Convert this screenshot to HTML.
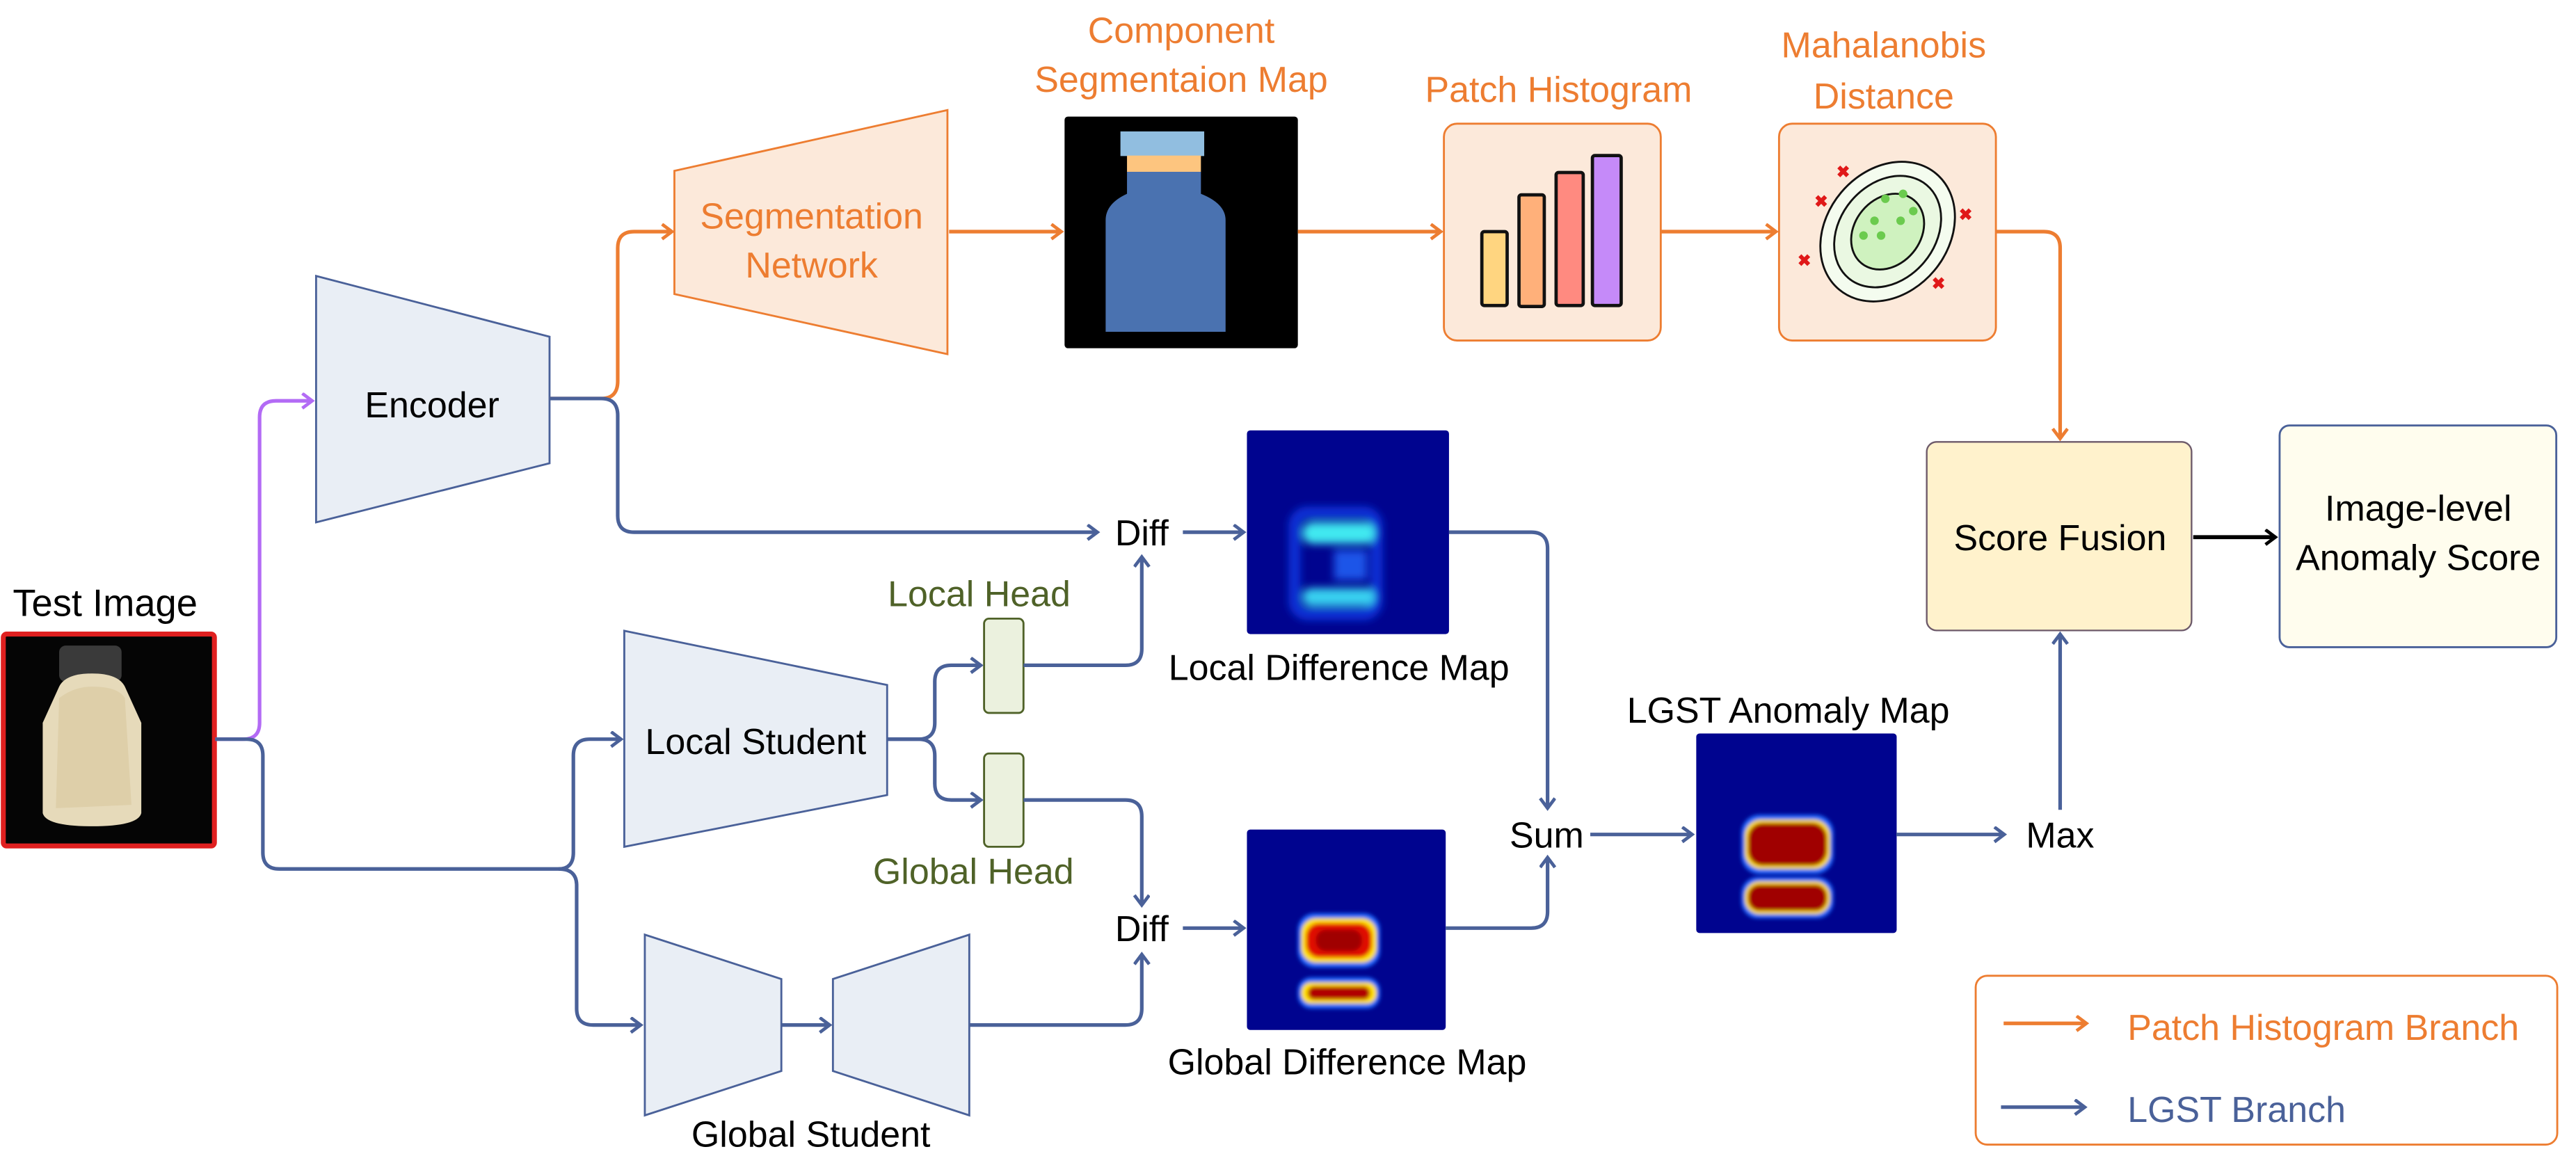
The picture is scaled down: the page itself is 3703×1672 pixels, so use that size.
<!DOCTYPE html>
<html><head><meta charset="utf-8"><style>
html,body{margin:0;padding:0;background:#fff;}
svg{display:block;}
text{font-family:"Liberation Sans",sans-serif;}
</style></head><body>
<svg width="3703" height="1672" viewBox="0 0 1568 708" xmlns="http://www.w3.org/2000/svg">
<defs>
<marker id="mo" markerUnits="userSpaceOnUse" markerWidth="12" markerHeight="12" refX="7" refY="5" orient="auto"><path d="M1,0.5 L7,5 L1,9.5" fill="none" stroke="#ED7D31" stroke-width="2"/></marker>
<marker id="mb" markerUnits="userSpaceOnUse" markerWidth="12" markerHeight="12" refX="7" refY="5" orient="auto"><path d="M1,0.5 L7,5 L1,9.5" fill="none" stroke="#4A6199" stroke-width="2"/></marker>
<marker id="mp" markerUnits="userSpaceOnUse" markerWidth="12" markerHeight="12" refX="7" refY="5" orient="auto"><path d="M1,0.5 L7,5 L1,9.5" fill="none" stroke="#B36BF5" stroke-width="2"/></marker>
<marker id="mk" markerUnits="userSpaceOnUse" markerWidth="12" markerHeight="12" refX="7" refY="5" orient="auto"><path d="M1,0.5 L7,5 L1,9.5" fill="none" stroke="#000" stroke-width="2"/></marker>
<filter id="bl" x="-50%" y="-50%" width="200%" height="200%"><feGaussianBlur stdDeviation="2.5"/></filter>
<filter id="bl2" x="-50%" y="-50%" width="200%" height="200%"><feGaussianBlur stdDeviation="1.2"/></filter>
</defs>

<!-- Test image -->
<text x="64" y="375" font-size="23" text-anchor="middle">Test Image</text>
<rect x="2" y="386" width="128.5" height="129" rx="2" fill="#050505" stroke="#E02020" stroke-width="3"/>
<rect x="36" y="393" width="38" height="22" rx="4" fill="#707070" opacity="0.5"/>
<path d="M36,418 Q40,410 56,410 Q72,410 76,418 L86,440 L86,495 Q84,503 56,503 Q28,503 26,495 L26,440 Z" fill="#E6DABA"/>
<path d="M36,425 Q45,418 56,418 Q72,418 76,425 L80,490 L34,492 Z" fill="#D8C89F" opacity="0.6"/>

<!-- purple connector -->
<path d="M131,450 H148 Q158,450 158,440 V254 Q158,244 168,244 H190" fill="none" stroke="#B36BF5" stroke-width="2.2" marker-end="url(#mp)"/>

<!-- Encoder -->
<polygon points="192.4,168 334.5,205 334.5,282 192.4,318" fill="#E9EEF5" stroke="#4A6199" stroke-width="1.2"/>
<text x="263" y="254" font-size="22" text-anchor="middle">Encoder</text>

<path d="M334.5,242.6 H366 Q376,242.6 376,232 V151 Q376,141 386,141 H409" fill="none" stroke="#ED7D31" stroke-width="2.2" marker-end="url(#mo)"/>
<path d="M334.5,242.6 H366 Q376,242.6 376,253 V314 Q376,324 386,324 H668" fill="none" stroke="#4A6199" stroke-width="2.2" marker-end="url(#mb)"/>

<!-- Segmentation network -->
<polygon points="410.5,104 576.7,67 576.7,215.6 410.5,179" fill="#FCE9DA" stroke="#ED7D31" stroke-width="1.2"/>
<text x="494" y="139" font-size="22" fill="#ED7D31" text-anchor="middle">Segmentation</text>
<text x="494" y="169" font-size="22" fill="#ED7D31" text-anchor="middle">Network</text>
<path d="M577.7,141 H646" fill="none" stroke="#ED7D31" stroke-width="2.2" marker-end="url(#mo)"/>

<!-- Seg map -->
<text x="719" y="26" font-size="22" fill="#ED7D31" text-anchor="middle">Component</text>
<text x="719" y="56" font-size="22" fill="#ED7D31" text-anchor="middle">Segmentaion Map</text>
<rect x="648" y="71" width="142" height="141" rx="2" fill="#000"/>
<rect x="682" y="80" width="51" height="15" fill="#91BEE0"/>
<rect x="686" y="94.7" width="45" height="10" fill="#FDC57F"/>
<path d="M686,104.6 H731 V118 Q746,124 746,134 V202 H673 V134 Q673,124 686,118 Z" fill="#4A72B0"/>

<path d="M790,141 H877" fill="none" stroke="#ED7D31" stroke-width="2.2" marker-end="url(#mo)"/>

<!-- Patch histogram -->
<text x="948.7" y="62" font-size="22" fill="#ED7D31" text-anchor="middle">Patch Histogram</text>
<rect x="878.9" y="75.3" width="132" height="132" rx="8" fill="#FCE9DA" stroke="#ED7D31" stroke-width="1.2"/>
<rect x="902" y="141" width="15.4" height="45" rx="1.5" fill="#FFD580" stroke="#111" stroke-width="2"/>
<rect x="924.6" y="118.6" width="15.4" height="68" rx="1.5" fill="#FFB07A" stroke="#111" stroke-width="2"/>
<rect x="947.2" y="105" width="16.5" height="81" rx="1.5" fill="#FF8A80" stroke="#111" stroke-width="2"/>
<rect x="969.3" y="94.7" width="17.5" height="91.3" rx="1.5" fill="#C58AF9" stroke="#111" stroke-width="2"/>
<path d="M1011,141 H1081" fill="none" stroke="#ED7D31" stroke-width="2.2" marker-end="url(#mo)"/>

<!-- Mahalanobis -->
<text x="1146.6" y="35" font-size="22" fill="#ED7D31" text-anchor="middle">Mahalanobis</text>
<text x="1146.6" y="66" font-size="22" fill="#ED7D31" text-anchor="middle">Distance</text>
<rect x="1082.9" y="75.3" width="132" height="132" rx="8" fill="#FCE9DA" stroke="#ED7D31" stroke-width="1.2"/>
<g transform="translate(1149,141) rotate(-50)">
<ellipse cx="0" cy="0" rx="46" ry="37" fill="#F4FCEF" stroke="#111" stroke-width="1.2"/>
<ellipse cx="0" cy="0" rx="37" ry="29" fill="#EAF8E2" stroke="#111" stroke-width="1.2"/>
<ellipse cx="0" cy="0" rx="25" ry="20" fill="#CFF2BF" stroke="#111" stroke-width="1.2"/>
</g>
<g fill="#6BCB4E">
<circle cx="1147.6" cy="121" r="2.6"/><circle cx="1158.4" cy="118" r="2.6"/><circle cx="1141" cy="134.4" r="2.6"/>
<circle cx="1156.9" cy="134.4" r="2.6"/><circle cx="1164.6" cy="128.5" r="2.6"/><circle cx="1134.3" cy="143.4" r="2.6"/><circle cx="1145" cy="143.4" r="2.6"/>
</g>
<g fill="#E01818" font-size="10" font-weight="bold" text-anchor="middle">
<text x="1122" y="108">✖</text><text x="1108.6" y="126">✖</text><text x="1098.3" y="162">✖</text><text x="1196.5" y="134">✖</text><text x="1180" y="176">✖</text>
</g>
<path d="M1215,141 H1244 Q1254,141 1254,151 V267" fill="none" stroke="#ED7D31" stroke-width="2.2" marker-end="url(#mo)"/>

<!-- Score fusion -->
<rect x="1172.8" y="269" width="161.2" height="114.8" rx="6" fill="#FFF2CC" stroke="#6d5a6a" stroke-width="1"/>
<text x="1254" y="335" font-size="22" text-anchor="middle">Score Fusion</text>
<path d="M1335,327 H1385" fill="none" stroke="#000" stroke-width="2.4" marker-end="url(#mk)"/>
<rect x="1387.6" y="259" width="168.4" height="135" rx="6" fill="#FFFDEE" stroke="#4A6199" stroke-width="1.2"/>
<text x="1472" y="317" font-size="22" text-anchor="middle">Image-level</text>
<text x="1472" y="347" font-size="22" text-anchor="middle">Anomaly Score</text>

<!-- Diff 1 -->
<text x="695" y="332" font-size="22" text-anchor="middle">Diff</text>
<path d="M720,324 H757" fill="none" stroke="#4A6199" stroke-width="2.2" marker-end="url(#mb)"/>

<!-- Local diff map -->
<rect x="759" y="262" width="123" height="124" rx="2" fill="#00048F"/>
<g filter="url(#bl)">
<rect x="788" y="312" width="50" height="62" rx="8" fill="none" stroke="#1030D8" stroke-width="7"/>
<rect x="793" y="318" width="44" height="13" rx="6" fill="#40E8F0"/>
<rect x="793" y="358" width="44" height="11" rx="5" fill="#38D0F0"/>
<rect x="812" y="335" width="20" height="18" fill="#1A55E8"/>
</g>
<text x="815" y="414" font-size="22" text-anchor="middle">Local Difference Map</text>

<!-- Local student -->
<polygon points="380,384 540,417 540,484 380,515.5" fill="#E9EEF5" stroke="#4A6199" stroke-width="1.2"/>
<text x="460" y="459" font-size="22" text-anchor="middle">Local Student</text>

<!-- heads -->
<text x="596" y="369" font-size="22" fill="#4F6228" text-anchor="middle">Local Head</text>
<rect x="599" y="376.6" width="24" height="57.4" rx="3" fill="#EBF1DE" stroke="#4F6228" stroke-width="1.2"/>
<rect x="599" y="458.7" width="24" height="56.8" rx="3" fill="#EBF1DE" stroke="#4F6228" stroke-width="1.2"/>
<text x="592.5" y="538" font-size="22" fill="#4F6228" text-anchor="middle">Global Head</text>

<path d="M540,450 H559 Q569,450 569,440 V415 Q569,405 579,405 H597" fill="none" stroke="#4A6199" stroke-width="2.2" marker-end="url(#mb)"/>
<path d="M540,450 H559 Q569,450 569,460 V477 Q569,487 579,487 H597" fill="none" stroke="#4A6199" stroke-width="2.2" marker-end="url(#mb)"/>
<path d="M623,405 H685 Q695,405 695,395 V339" fill="none" stroke="#4A6199" stroke-width="2.2" marker-end="url(#mb)"/>
<path d="M623,487 H685 Q695,487 695,497 V551" fill="none" stroke="#4A6199" stroke-width="2.2" marker-end="url(#mb)"/>

<!-- test image blue -->
<path d="M131,450 H150 Q160,450 160,460 V519 Q160,529 170,529 H340 Q349,529 349,519 V460 Q349,450 359,450 H378" fill="none" stroke="#4A6199" stroke-width="2.2" marker-end="url(#mb)"/>
<path d="M340,529 Q351,529 351,539 V614 Q351,624 361,624 H390" fill="none" stroke="#4A6199" stroke-width="2.2" marker-end="url(#mb)"/>

<!-- Global student -->
<polygon points="392.5,569 475.6,596 475.6,652 392.5,679" fill="#E9EEF5" stroke="#4A6199" stroke-width="1.2"/>
<polygon points="507,596 590,569 590,679 507,652" fill="#E9EEF5" stroke="#4A6199" stroke-width="1.2"/>
<path d="M475.6,624 H505" fill="none" stroke="#4A6199" stroke-width="2.2" marker-end="url(#mb)"/>
<text x="493.6" y="698" font-size="22" text-anchor="middle">Global Student</text>
<path d="M590,624 H685 Q695,624 695,614 V581" fill="none" stroke="#4A6199" stroke-width="2.2" marker-end="url(#mb)"/>

<!-- Diff 2 -->
<text x="695" y="573" font-size="22" text-anchor="middle">Diff</text>
<path d="M720,565 H757" fill="none" stroke="#4A6199" stroke-width="2.2" marker-end="url(#mb)"/>

<!-- Global diff map -->
<rect x="759" y="505" width="121" height="122" rx="2" fill="#00048F"/>
<g filter="url(#bl2)">
<rect x="790" y="556" width="50" height="33" rx="10" fill="#1E6CFF"/>
<rect x="792" y="559" width="46" height="27" rx="9" fill="#FFE000"/>
<rect x="795" y="562" width="40" height="21" rx="8" fill="#E01000"/>
<rect x="801" y="566" width="28" height="13" rx="6" fill="#A00000"/>
<rect x="790" y="595" width="50" height="19" rx="8" fill="#1E6CFF"/>
<rect x="792" y="598" width="46" height="13" rx="6" fill="#FFE000"/>
<rect x="796" y="600.5" width="38" height="8" rx="4" fill="#B00000"/>
</g>
<text x="820" y="654" font-size="22" text-anchor="middle">Global Difference Map</text>

<!-- to Sum -->
<path d="M882,324 H932 Q942,324 942,334 V492" fill="none" stroke="#4A6199" stroke-width="2.2" marker-end="url(#mb)"/>
<path d="M880,565 H932 Q942,565 942,555 V522" fill="none" stroke="#4A6199" stroke-width="2.2" marker-end="url(#mb)"/>
<text x="941.5" y="516" font-size="22" text-anchor="middle">Sum</text>
<path d="M968,508 H1030" fill="none" stroke="#4A6199" stroke-width="2.2" marker-end="url(#mb)"/>

<!-- LGST map -->
<text x="1088.5" y="440" font-size="22" text-anchor="middle">LGST Anomaly Map</text>
<rect x="1032.5" y="446.5" width="122" height="121.5" rx="2" fill="#00048F"/>
<g filter="url(#bl2)">
<rect x="1060" y="496" width="56" height="36" rx="11" fill="#1E6CFF"/>
<rect x="1062" y="499" width="52" height="30" rx="10" fill="#FFE000"/>
<rect x="1064" y="501" width="48" height="26" rx="9" fill="#A00000"/>
<rect x="1060" y="534" width="56" height="25" rx="10" fill="#1E6CFF"/>
<rect x="1062" y="536.5" width="52" height="20" rx="9" fill="#FFE000"/>
<rect x="1064" y="538.5" width="48" height="16" rx="7" fill="#A00000"/>
</g>
<path d="M1154.3,508 H1220" fill="none" stroke="#4A6199" stroke-width="2.2" marker-end="url(#mb)"/>
<text x="1254" y="516" font-size="22" text-anchor="middle">Max</text>
<path d="M1254,493 V386" fill="none" stroke="#4A6199" stroke-width="2.2" marker-end="url(#mb)"/>

<!-- Legend -->
<rect x="1202.6" y="594" width="354" height="102.8" rx="7" fill="#fff" stroke="#ED7D31" stroke-width="1.2"/>
<path d="M1219.6,623 H1270" fill="none" stroke="#ED7D31" stroke-width="2.2" marker-end="url(#mo)"/>
<text x="1295" y="633" font-size="22" fill="#ED7D31">Patch Histogram Branch</text>
<path d="M1218,674 H1269" fill="none" stroke="#4A6199" stroke-width="2.2" marker-end="url(#mb)"/>
<text x="1295" y="683" font-size="22" fill="#4A6199">LGST Branch</text>
</svg>
</body></html>
